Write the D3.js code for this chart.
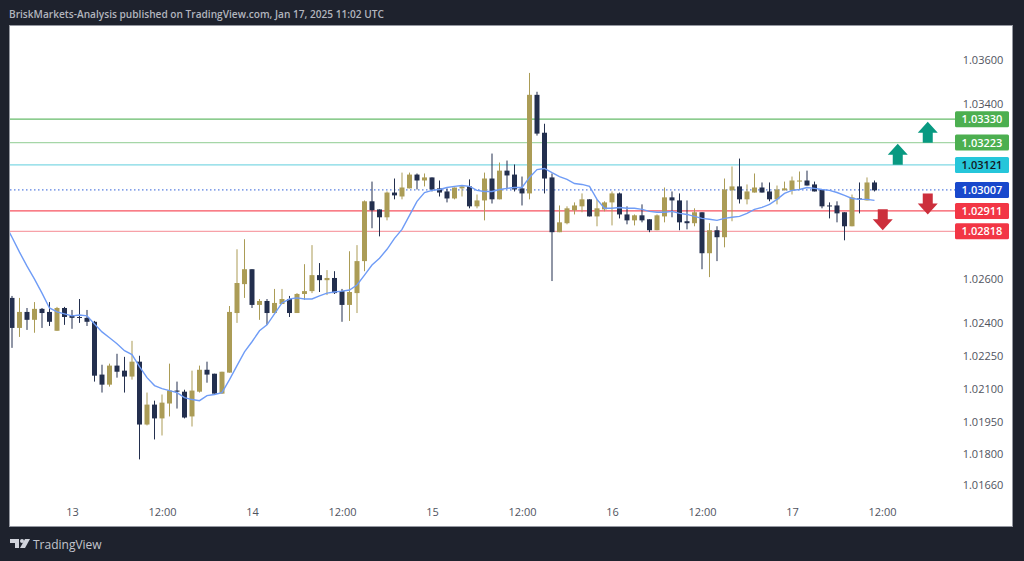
<!DOCTYPE html>
<html>
<head>
<meta charset="utf-8">
<script src="https://cdn.jsdelivr.net/npm/d3@7"></script>
<style>
  html, body { margin: 0; padding: 0; background: #1e222d; }
  svg { display: block; }
</style>
</head>
<body>
<div id="chart"></div>
<script>
// hourly candles, first one is 12 Jan 16:00 UTC
const opens = [
  1.02514,1.02377,1.02450,1.02414,1.02464,1.02450,1.02364,1.02468,1.02436,1.02427,
  1.02423,1.02405,1.02164,1.02118,1.02205,1.02182,1.02155,1.02223,1.01936,1.02027,
  1.01964,1.02032,1.02091,1.02086,1.01973,1.02086,1.02186,1.02168,1.02077,1.02173,
  1.02445,1.02577,1.02645,1.02482,1.02500,1.02445,1.02486,1.02509,1.02445,1.02532,
  1.02545,1.02618,1.02595,1.02605,1.02545,1.02482,1.02536,1.02682,1.02955,1.02918,
  1.02882,1.02995,1.02977,1.03014,1.03077,1.03050,1.03064,1.03014,1.03000,1.02968,
  1.03014,1.03023,1.02932,1.02959,1.03059,1.02964,1.03095,1.03077,1.03014,1.02991,
  1.03441,1.03268,1.03064,1.02814,1.02855,1.02914,1.02932,1.02964,1.02886,1.02918,
  1.02950,1.02991,1.02895,1.02868,1.02891,1.02873,1.02823,1.02886,1.02973,1.02959,
  1.02864,1.02855,1.02905,1.02718,1.02823,1.02791,1.03005,1.03023,1.02964,1.02995,
  1.03018,1.03000,1.02964,1.03005,1.03005,1.03045,1.03050,1.03032,1.03009,1.02936,
  1.02936,1.02905,1.02841,1.02968,1.02959,1.03041
];
const highs = [
  1.02523,1.02514,1.02468,1.02495,1.02468,1.02495,1.02473,1.02473,1.02459,1.02509,
  1.02459,1.02409,1.02209,1.02214,1.02259,1.02245,1.02318,1.02250,1.02082,1.02045,
  1.02073,1.02214,1.02132,1.02095,1.02182,1.02205,1.02223,1.02168,1.02177,1.02477,
  1.02736,1.02782,1.02645,1.02509,1.02509,1.02555,1.02555,1.02523,1.02536,1.02668,
  1.02755,1.02673,1.02641,1.02636,1.02555,1.02727,1.02755,1.02959,1.03045,1.02918,
  1.03000,1.03059,1.03086,1.03086,1.03082,1.03082,1.03064,1.03050,1.03014,1.03018,
  1.03027,1.03055,1.02986,1.03086,1.03173,1.03132,1.03141,1.03123,1.03068,1.03541,
  1.03455,1.03309,1.03082,1.02936,1.02932,1.02950,1.02991,1.02964,1.02964,1.02955,
  1.03000,1.02995,1.02932,1.02895,1.02941,1.02873,1.02895,1.03018,1.03000,1.02991,
  1.02959,1.02923,1.02905,1.02855,1.02841,1.03059,1.03114,1.03150,1.03032,1.03082,
  1.03041,1.03041,1.03027,1.03045,1.03068,1.03091,1.03095,1.03045,1.03009,1.02950,
  1.02955,1.02905,1.02986,1.03041,1.03064,1.03050
];
const lows = [
  1.02286,1.02336,1.02368,1.02355,1.02377,1.02386,1.02364,1.02391,1.02373,1.02400,
  1.02386,1.02132,1.02082,1.02109,1.02150,1.02082,1.02141,1.01777,1.01932,1.01868,
  1.01886,1.01973,1.02009,1.01964,1.01927,1.02082,1.02127,1.02077,1.02077,1.02173,
  1.02400,1.02514,1.02468,1.02414,1.02391,1.02445,1.02486,1.02427,1.02445,1.02505,
  1.02536,1.02541,1.02527,1.02532,1.02405,1.02409,1.02445,1.02636,1.02832,1.02795,
  1.02868,1.02964,1.02964,1.03014,1.03009,1.03023,1.03000,1.02977,1.02950,1.02964,
  1.02977,1.02923,1.02923,1.02868,1.02945,1.02964,1.03014,1.03000,1.02936,1.02964,
  1.03255,1.02991,1.02591,1.02814,1.02850,1.02895,1.02905,1.02886,1.02841,1.02909,
  1.02845,1.02877,1.02850,1.02845,1.02859,1.02814,1.02823,1.02859,1.02882,1.02823,
  1.02827,1.02841,1.02645,1.02609,1.02682,1.02745,1.02864,1.02945,1.02941,1.02995,
  1.02995,1.02955,1.02941,1.03005,1.02986,1.03009,1.03027,1.03000,1.02923,1.02877,
  1.02859,1.02777,1.02841,1.02900,1.02959,1.03000
];
const closes = [
  1.02377,1.02450,1.02414,1.02464,1.02445,1.02405,1.02468,1.02427,1.02423,1.02423,
  1.02405,1.02159,1.02118,1.02205,1.02177,1.02155,1.02223,1.01936,1.02027,1.01964,
  1.02036,1.02091,1.02086,1.01968,1.02091,1.02186,1.02164,1.02077,1.02177,1.02450,
  1.02582,1.02645,1.02482,1.02500,1.02445,1.02491,1.02509,1.02445,1.02532,1.02545,
  1.02618,1.02595,1.02605,1.02536,1.02482,1.02541,1.02682,1.02955,1.02914,1.02882,
  1.02995,1.02982,1.03018,1.03077,1.03050,1.03064,1.03009,1.02995,1.02968,1.03018,
  1.03023,1.02932,1.02959,1.03059,1.02964,1.03095,1.03073,1.03009,1.02991,1.03441,
  1.03264,1.03059,1.02814,1.02859,1.02923,1.02936,1.02964,1.02886,1.02923,1.02950,
  1.02991,1.02895,1.02868,1.02891,1.02868,1.02823,1.02891,1.02973,1.02959,1.02859,
  1.02855,1.02905,1.02718,1.02823,1.02791,1.03009,1.03023,1.02964,1.03000,1.03018,
  1.02995,1.02964,1.03009,1.03014,1.03050,1.03050,1.03027,1.03000,1.02932,1.02932,
  1.02900,1.02841,1.02973,1.02964,1.03041,1.03005
];
// moving average, starts one candle before the first visible body
const maStart = -1;
const maValues = [
  1.02855,1.02791,1.02723,1.02659,1.02600,1.02536,1.02468,1.02450,1.02441,1.02432,
  1.02436,1.02432,1.02395,1.02359,1.02332,1.02305,1.02273,1.02255,1.02200,1.02150,
  1.02114,1.02100,1.02091,1.02082,1.02059,1.02050,1.02045,1.02068,1.02073,1.02082,
  1.02141,1.02205,1.02268,1.02314,1.02364,1.02391,1.02441,1.02491,1.02509,1.02514,
  1.02509,1.02509,1.02523,1.02536,1.02541,1.02545,1.02550,1.02573,1.02618,1.02664,
  1.02695,1.02736,1.02786,1.02827,1.02891,1.02955,1.02995,1.03005,1.03009,1.03018,
  1.03023,1.03027,1.03023,1.03005,1.03000,1.03000,1.03009,1.03014,1.03018,1.03018,
  1.03064,1.03100,1.03105,1.03086,1.03068,1.03055,1.03036,1.03032,1.03023,1.02964,
  1.02923,1.02923,1.02927,1.02923,1.02923,1.02918,1.02909,1.02905,1.02905,1.02909,
  1.02900,1.02895,1.02886,1.02877,1.02873,1.02868,1.02877,1.02882,1.02886,1.02900,
  1.02918,1.02927,1.02941,1.02964,1.02991,1.03005,1.03009,1.03018,1.03014,1.03009,
  1.03005,1.02995,1.02982,1.02968,1.02964,1.02964,1.02959
];
const priceTicks = [1.036,1.034,1.026,1.024,1.0225,1.021,1.0195,1.018,1.0166];
const timeTicks = [8,20,32,44,56,68,80,92,104,116];
const timeLabels = ["13","12:00","14","12:00","15","12:00","16","12:00","17","12:00"];
const levelValues = [1.0333,1.03223,1.03121,1.03007,1.02911,1.02818];
const levelColors = ["#66bb6a","#a5d6a7","#7fd8e4","#2f5fd8","#f7525f","#f7a1a8"];
const boxColors = ["#4caf50","#4caf50","#26c6da","#1848cc","#f23645","#f23645"];
const boxText = ["#ffffff","#ffffff","#131722","#ffffff","#ffffff","#ffffff"];
const arrowIndex = [122.1,118.1,122.1,116.1];
const arrowTip = [1.03318,1.03218,1.02895,1.02823];
const arrowDir = ["up","up","down","down"];

const W = 1024, H = 561;
const plot = { left: 10, right: 1012, top: 26, bottom: 526 };
const UP = "#ab9c56", DOWN = "#232f4e";
const FONT = "'Open Sans', 'Liberation Sans', sans-serif";

// 1.036 sits on y=60, 1.0166 on y=485
const y = d3.scaleLinear().domain([1.0166, 1.036]).range([485, 60]);
// candle 0 sits on x=12, 7.5px an hour
const x = d3.scaleLinear().domain([0, 115]).range([12, 874.5]);

const svg = d3.select("#chart").append("svg").attr("width", W).attr("height", H);

svg.append("clipPath").attr("id", "plotClip").append("rect")
  .attr("x", plot.left).attr("y", plot.top)
  .attr("width", plot.right - plot.left).attr("height", plot.bottom - plot.top);

svg.append("rect")
  .attr("x", plot.left - 0.5).attr("y", plot.top - 0.5)
  .attr("width", plot.right - plot.left + 1).attr("height", plot.bottom - plot.top + 1)
  .attr("fill", "#fff").attr("stroke", "#9598a1");

// header + footer
svg.append("text").attr("x", 9).attr("y", 18)
  .attr("font-family", FONT).attr("font-size", 10.15).attr("font-weight", 600)
  .attr("fill", "#b2b5be")
  .text("BriskMarkets-Analysis published on TradingView.com, Jan 17, 2025 11:02 UTC");

const logo = svg.append("g").attr("transform", "translate(10,539)").attr("fill", "#d1d4dc");
logo.append("path").attr("d", "M0 0H9V9H5V4H0Z");
logo.append("circle").attr("cx", 12).attr("cy", 2).attr("r", 2);
logo.append("path").attr("d", "M15 0H20L15 9H10Z");
svg.append("text").attr("x", 33).attr("y", 549)
  .attr("font-family", FONT).attr("font-size", 12).attr("fill", "#c3c6ce")
  .text("TradingView");

const chart = svg.append("g").attr("clip-path", "url(#plotClip)");

// level lines
levelValues.forEach((v, i) => {
  chart.append("line")
    .attr("x1", plot.left).attr("x2", 955)
    .attr("y1", y(v)).attr("y2", y(v))
    .attr("stroke", levelColors[i])
    .attr("stroke-width", i === 3 ? 1 : 1.3)
    .attr("stroke-dasharray", i === 3 ? "1.5,2.5" : null);
});

// candles
const candles = chart.selectAll(".candle").data(opens).enter().append("g").attr("class", "candle")
  .attr("fill", (d, i) => closes[i] >= d ? UP : DOWN);
candles.append("rect")
  .attr("x", (d, i) => x(i) - 0.5).attr("width", 1)
  .attr("y", (d, i) => y(highs[i]))
  .attr("height", (d, i) => y(lows[i]) - y(highs[i]));
candles.append("rect")
  .attr("x", (d, i) => x(i) - 2.5).attr("width", 5)
  .attr("y", (d, i) => y(Math.max(d, closes[i])))
  .attr("height", (d, i) => Math.max(1, Math.abs(y(d) - y(closes[i]))));

// moving average
chart.append("path").datum(maValues)
  .attr("fill", "none").attr("stroke", "#6f9cf6").attr("stroke-width", 1.4)
  .attr("d", d3.line().x((d, i) => x(i + maStart)).y(d => y(d)));

// arrows
arrowDir.forEach((dir, i) => {
  let tx = x(arrowIndex[i]), ty = y(arrowTip[i]), s = dir === "up" ? 1 : -1;
  chart.append("path")
    .attr("fill", dir === "up" ? "#089981" : "#cc2f3c")
    .attr("d", `M${tx} ${ty}L${tx + 10} ${ty + s * 11}H${tx + 5}V${ty + s * 21}H${tx - 5}V${ty + s * 11}H${tx - 10}Z`);
});

// price axis, built with d3.axisRight then stripped to the labels
const priceAxis = svg.append("g")
  .call(d3.axisRight(y).tickValues(priceTicks).tickSize(0).tickFormat(d3.format(".5f")));
priceAxis.select(".domain").remove();
priceAxis.selectAll("text")
  .attr("x", 983).attr("text-anchor", "middle")
  .attr("font-family", FONT).attr("font-size", 11).attr("fill", "#50535e");

// level boxes
levelValues.forEach((v, i) => {
  let g = svg.append("g");
  let cy = y(v);
  g.append("rect").attr("x", 955).attr("y", cy - 8).attr("width", 54).attr("height", 16)
    .attr("rx", 1.5).attr("fill", boxColors[i]);
  g.append("text").attr("x", 982).attr("y", cy).attr("dy", "0.36em")
    .attr("text-anchor", "middle").attr("font-family", FONT).attr("font-size", 11)
    .attr("font-weight", 600).attr("fill", boxText[i]).text(d3.format(".5f")(v));
});

// time axis
const timeAxis = svg.append("g").attr("transform", "translate(0,512)")
  .call(d3.axisBottom(x).tickValues(timeTicks).tickSize(0).tickFormat((d, i) => timeLabels[i]));
timeAxis.select(".domain").remove();
timeAxis.selectAll("text")
  .attr("y", 0).attr("dy", "0.36em").attr("text-anchor", "middle")
  .attr("font-family", FONT).attr("font-size", 11).attr("fill", "#50535e");
</script>
</body>
</html>
